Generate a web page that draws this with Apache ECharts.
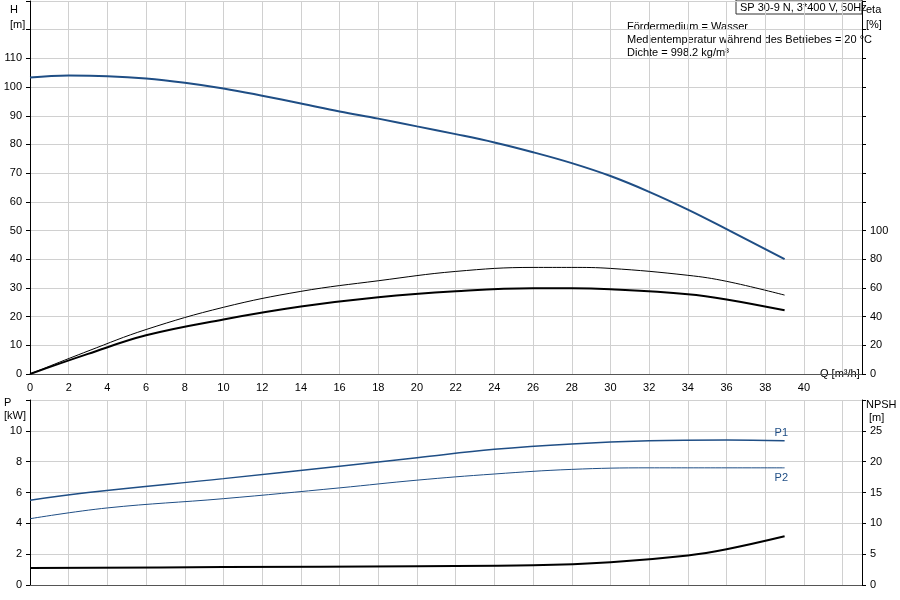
<!DOCTYPE html>
<html><head><meta charset="utf-8">
<script src="https://cdn.jsdelivr.net/npm/echarts@6/dist/echarts.min.js"></script>
<style>html,body{margin:0;background:#fff}#c{width:900px;height:600px}</style>
</head><body><div id="c"></div>
<script>
const hQ=[0,2,4,6,8,10,12,14,16,18,20,22,24,26,28,30,32,34,36,38,39];
const hV=[103.3,104,103.8,103,101.5,99.5,97,94.3,91.5,89,86.3,83.6,80.7,77.3,73.5,69,63.5,57.3,50.5,43.5,40];
const etaQ=[0,3,6,10,14,18,22,26,28,30,34,36,39];
const eta1=[0,16,31,46.5,57.6,65,71.5,74.3,74.3,73.6,68.8,64.6,55];
const eta2=[0,14,27,38,47,53.5,57.6,59.7,59.7,59,55.6,52,44.4];
const p1Q=[0,3,10,16,20,24,28,32,36,39];
const p1V=[5.5,6.0,6.9,7.7,8.25,8.8,9.15,9.35,9.4,9.35];
const p2Q=[0,4,10,16,20,24,28,32,39];
const p2V=[4.3,5.0,5.6,6.3,6.8,7.2,7.5,7.6,7.6];
const nQ=[0,10,20,26,30,34,36,39];
const nV=[2.74,2.9,3.06,3.2,3.7,4.8,5.8,7.9];
const z=(a,b)=>a.map((x,i)=>[x,b[i]]);
const blue='#1f4e85';
const ax={color:'#000',fontSize:11,fontFamily:'Liberation Sans'};
const gl={show:true,lineStyle:{color:'#d0d0d0'}};
function xa(i,show){return {type:'value',gridIndex:i,min:0,max:43,interval:2,
 axisLine:{show:true,onZero:false,lineStyle:{color:'#555'}},axisTick:{show:false},splitLine:gl,
 axisLabel:{show:show,...ax,formatter:v=>v>40?'':v},name:show?'Q [m³/h]':'',nameGap:-42,nameLocation:'end',nameTextStyle:{...ax,padding:[26,0,0,0]}}}
function ya(i,max,iv,lim,pos,grid){return {type:'value',gridIndex:i,min:0,max:max,interval:iv,position:pos,
 axisLine:{show:true,lineStyle:{color:'#000'}},axisTick:{show:true,length:4},
 splitLine:grid?gl:{show:false},axisLabel:{...ax,formatter:v=>v>lim?'':v}}}
const opt={animation:false,
grid:[{left:30,right:38,top:1,bottom:226,outerBoundsMode:'none',containLabel:false},
      {left:30,right:38,top:400,bottom:15,outerBoundsMode:'none',containLabel:false}],
xAxis:[xa(0,true),xa(1,false)],
yAxis:[ya(0,130,10,110,'left',true),ya(0,260,20,100,'right',false),
 ya(1,12,2,10,'left',true),ya(1,30,5,25,'right',false)],
graphic:[
 {type:'text',left:10,top:2,style:{text:'H\n[m]',font:'11px Liberation Sans',fill:'#000',align:'center',lineHeight:15}},
 {type:'text',left:866,top:2,style:{text:'eta\n[%]',font:'11px Liberation Sans',fill:'#000',lineHeight:15}},
 {type:'text',left:4,top:396,style:{text:'P\n[kW]',font:'11px Liberation Sans',fill:'#000',lineHeight:13}},
 {type:'text',left:866,top:398,style:{text:'NPSH\n [m]',font:'11px Liberation Sans',fill:'#000',lineHeight:13}},
 {type:'rect',shape:{x:736,y:0,width:126,height:14},style:{fill:'#fff',stroke:'#333'}},
 {type:'text',left:740,top:2,style:{text:'SP 30-9 N, 3*400 V, 50Hz',font:'11px Liberation Sans',fill:'#000'}},
 {type:'rect',shape:{x:624,y:18,width:238,height:40},style:{fill:'#fff'}},
 {type:'text',left:627,top:20,style:{text:'Fördermedium = Wasser\nMedientemperatur während des Betriebes = 20 °C\nDichte = 998.2 kg/m³',font:'11px Liberation Sans',fill:'#000',lineHeight:13}}
],
series:[
 {type:'line',xAxisIndex:0,yAxisIndex:0,data:z(hQ,hV),smooth:0.4,symbol:'none',lineStyle:{color:blue,width:2}},
 {type:'line',xAxisIndex:0,yAxisIndex:1,data:z(etaQ,eta1),smooth:0.4,symbol:'none',lineStyle:{color:'#000',width:1}},
 {type:'line',xAxisIndex:0,yAxisIndex:1,data:z(etaQ,eta2),smooth:0.4,symbol:'none',lineStyle:{color:'#000',width:2}},
 {type:'line',xAxisIndex:1,yAxisIndex:2,data:z(p1Q,p1V),smooth:0.4,symbol:'none',lineStyle:{color:blue,width:1.5},
  endLabel:{show:true,formatter:'P1',color:blue,fontSize:11,offset:[-18,-8]}},
 {type:'line',xAxisIndex:1,yAxisIndex:2,data:z(p2Q,p2V),smooth:0.4,symbol:'none',lineStyle:{color:blue,width:1},
  endLabel:{show:true,formatter:'P2',color:blue,fontSize:11,offset:[-18,10]}},
 {type:'line',xAxisIndex:1,yAxisIndex:3,data:z(nQ,nV),smooth:0.4,symbol:'none',lineStyle:{color:'#000',width:2}}
]};
echarts.init(document.getElementById('c')).setOption(opt);
</script></body></html>
